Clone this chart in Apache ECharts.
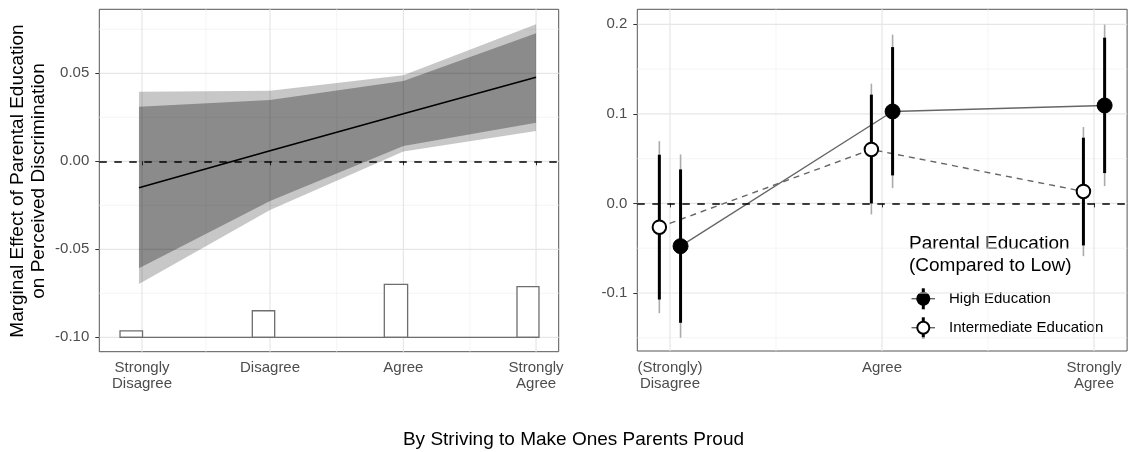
<!DOCTYPE html>
<html>
<head>
<meta charset="utf-8">
<script src="https://cdn.jsdelivr.net/npm/echarts@6/dist/echarts.min.js"></script>
<style>html,body{margin:0;padding:0;background:#fff}#c{width:1129px;height:452px}</style>
</head>
<body>
<div id="c"></div>
<script>
// ---------- LEFT PANEL DATA ----------
const leftTickLabels = ['Strongly\nDisagree', 'Disagree', 'Agree', 'Strongly\nAgree'];
const leftTickPos = [1.0, 1.967, 2.974, 3.976];
const leftMinorPos = [1.483, 2.470, 3.477];
const bandX = [0.977, 1.967, 2.974, 3.976];
const effect = [-0.015, 0.006, 0.027, 0.0477];
const outerLo = [-0.0697, -0.0277, 0.0055, 0.0172];
const outerHi = [0.0395, 0.0401, 0.0489, 0.0778];
const innerLo = [-0.0608, -0.0226, 0.0087, 0.0219];
const innerHi = [0.0310, 0.0348, 0.0456, 0.0727];
const histLeft = [0.834, 1.833, 2.830, 3.832];
const histRight = [1.004, 2.002, 3.006, 3.998];
const histTop = [-0.0963, -0.0849, -0.0699, -0.0712];
const histBase = -0.10;
const leftYTicks = [-0.10, -0.05, 0, 0.05];
const leftYMinor = [-0.075, -0.025, 0.025, 0.075];

// ---------- RIGHT PANEL DATA ----------
const rightCats = ['(Strongly)\nDisagree', 'Agree', 'Strongly\nAgree'];
const rightYTicks = [-0.1, 0, 0.1, 0.2];
const rightYMinor = [-0.15, -0.05, 0.05, 0.15];
const highEst = [-0.0477, 0.1027, 0.1094];
const highLo95 = [-0.150, 0.0171, 0.0193];
const highHi95 = [0.0547, 0.1885, 0.1997];
const highLo90 = [-0.1333, 0.0313, 0.0339];
const highHi90 = [0.0380, 0.1746, 0.1851];
const interEst = [-0.0265, 0.0603, 0.0134];
const interLo95 = [-0.1226, -0.0123, -0.0589];
const interHi95 = [0.0696, 0.1337, 0.0853];
const interLo90 = [-0.1073, 0.0, -0.0469];
const interHi90 = [0.0544, 0.1215, 0.0734];

const legendTitle = ['Parental Education', '(Compared to Low)'];
const legendNames = ['High Education', 'Intermediate Education'];
const yTitle = 'Marginal Effect of Parental Education\non Perceived Discrimination';
const xTitle = 'By Striving to Make Ones Parents Proud';

// ---------- BUILD ----------
const FONT = '"Liberation Sans", Arial, Helvetica, sans-serif';
const TICKCOL = '#4d4d4d';
const DODGE = 0.05;
const ZERODASH = {color: '#000', type: [7.5, 7.5], width: 1.5};

function vGrid(idx, vals, color, w) {
  return {
    type: 'custom', xAxisIndex: idx, yAxisIndex: idx, silent: true, z: 0, clip: false,
    data: vals.map(v => [v, 0]),
    renderItem(params, api) {
      const cs = params.coordSys;
      const px = api.coord([api.value(0), 0])[0];
      return {type: 'line', shape: {x1: px, y1: cs.y, x2: px, y2: cs.y + cs.height},
        style: {stroke: color, lineWidth: w}};
    }
  };
}
function hGrid(idx, vals, color, w) {
  return {
    type: 'custom', xAxisIndex: idx, yAxisIndex: idx, silent: true, z: 0, clip: false,
    data: vals.map(v => [2, v]),
    renderItem(params, api) {
      const cs = params.coordSys;
      const py = api.coord([2, api.value(1)])[1];
      return {type: 'line', shape: {x1: cs.x, y1: py, x2: cs.x + cs.width, y2: py},
        style: {stroke: color, lineWidth: w}};
    }
  };
}
function band(lo, hi, fill, z) {
  return {
    type: 'custom', xAxisIndex: 0, yAxisIndex: 0, silent: true, z: z,
    data: [[bandX[0], lo[0]]],
    renderItem(params, api) {
      const pts = [];
      for (let i = 0; i < bandX.length; i++) pts.push(api.coord([bandX[i], hi[i]]));
      for (let i = bandX.length - 1; i >= 0; i--) pts.push(api.coord([bandX[i], lo[i]]));
      return {type: 'polygon', shape: {points: pts}, style: {fill: fill}};
    }
  };
}
function errBars(est, lo95, hi95, lo90, hi90, d) {
  return {
    type: 'custom', xAxisIndex: 1, yAxisIndex: 1, silent: true, z: 3,
    data: est.map((e, i) => [i + 1 + d, lo95[i], hi95[i], lo90[i], hi90[i]]),
    renderItem(params, api) {
      const x = api.value(0);
      const a = api.coord([x, api.value(1)]), b = api.coord([x, api.value(2)]);
      const c = api.coord([x, api.value(3)]), e = api.coord([x, api.value(4)]);
      return {type: 'group', children: [
        {type: 'line', shape: {x1: a[0], y1: a[1], x2: b[0], y2: b[1]}, style: {stroke: '#ababab', lineWidth: 1.6}},
        {type: 'line', shape: {x1: c[0], y1: c[1], x2: e[0], y2: e[1]}, style: {stroke: '#000', lineWidth: 3}}
      ]};
    }
  };
}

const axisLbl = {color: TICKCOL, fontSize: 15, fontFamily: FONT, lineHeight: 16};
const tickStyle = {show: true, length: 4, lineStyle: {color: '#333', width: 1}};

const option = {
  animation: false,
  backgroundColor: '#fff',
  grid: [
    {left: 99.3, top: 9.3, width: 459.4, height: 342.4, show: true, borderColor: '#555', borderWidth: 1, backgroundColor: 'transparent'},
    {left: 637.3, top: 9.3, width: 489.8, height: 341.7, show: true, borderColor: '#555', borderWidth: 1, backgroundColor: 'transparent'}
  ],
  xAxis: [
    {type: 'value', gridIndex: 0, min: 0.6775, max: 4.147, splitLine: {show: false}, axisLine: {show: false},
     axisTick: Object.assign({customValues: leftTickPos}, tickStyle),
     axisLabel: Object.assign({customValues: leftTickPos, margin: 8.5,
       formatter: v => { const i = leftTickPos.findIndex(p => Math.abs(p - v) < 1e-6); return i >= 0 ? leftTickLabels[i] : ''; }}, axisLbl)},
    {type: 'value', gridIndex: 1, min: 0.846, max: 3.156, splitLine: {show: false}, axisLine: {show: false},
     axisTick: Object.assign({customValues: [1, 2, 3]}, tickStyle),
     axisLabel: Object.assign({customValues: [1, 2, 3], margin: 8.5,
       formatter: v => rightCats[Math.round(v) - 1] || ''}, axisLbl)}
  ],
  yAxis: [
    {type: 'value', gridIndex: 0, min: -0.10818, max: 0.08636, splitLine: {show: false}, axisLine: {show: false},
     axisTick: Object.assign({customValues: leftYTicks}, tickStyle),
     axisLabel: Object.assign({customValues: leftYTicks, margin: 10, formatter: v => v.toFixed(2)}, axisLbl)},
    {type: 'value', gridIndex: 1, min: -0.1648, max: 0.2168, splitLine: {show: false}, axisLine: {show: false},
     axisTick: Object.assign({customValues: rightYTicks}, tickStyle),
     axisLabel: Object.assign({customValues: rightYTicks, margin: 10, formatter: v => v.toFixed(1)}, axisLbl)}
  ],
  series: [
    vGrid(0, leftMinorPos, '#f3f3f3', 0.8),
    hGrid(0, leftYMinor, '#f3f3f3', 0.8),
    vGrid(0, leftTickPos, '#e6e6e6', 1.2),
    hGrid(0, leftYTicks, '#e6e6e6', 1.2),
    vGrid(1, [1.5, 2.5], '#f3f3f3', 0.8),
    hGrid(1, rightYMinor, '#f3f3f3', 0.8),
    vGrid(1, [1, 2, 3], '#e6e6e6', 1.2),
    hGrid(1, rightYTicks, '#e6e6e6', 1.2),
    band(outerLo, outerHi, 'rgba(0,0,0,0.22)', 1),
    band(innerLo, innerHi, 'rgba(0,0,0,0.30)', 2),
    {type: 'line', xAxisIndex: 0, yAxisIndex: 0, z: 3, silent: true, symbol: 'none',
     data: bandX.map((x, i) => [x, effect[i]]),
     lineStyle: {color: '#000', width: 1.6},
     markLine: {silent: true, symbol: 'none', label: {show: false}, lineStyle: ZERODASH, data: [{yAxis: 0}]}},
    {type: 'line', xAxisIndex: 0, yAxisIndex: 0, z: 3, silent: true, symbol: 'none',
     data: [[histLeft[0], histBase], [histRight[histRight.length - 1], histBase]],
     lineStyle: {color: '#6e6e6e', width: 1.3}},
    {type: 'custom', xAxisIndex: 0, yAxisIndex: 0, z: 3, silent: true,
     data: histTop.map((t, i) => [histLeft[i], histBase, histRight[i], t]),
     renderItem(params, api) {
       const p1 = api.coord([api.value(0), api.value(3)]);
       const p2 = api.coord([api.value(2), api.value(1)]);
       return {type: 'rect', shape: {x: p1[0], y: p1[1], width: p2[0] - p1[0], height: p2[1] - p1[1]},
         style: {fill: '#fff', stroke: '#6e6e6e', lineWidth: 1.3}};
     }},
    // right panel
    {type: 'line', xAxisIndex: 1, yAxisIndex: 1, z: 2, silent: true, symbol: 'none',
     data: highEst.map((v, i) => [i + 1 + DODGE, v]),
     lineStyle: {color: '#666', width: 1.4},
     markLine: {silent: true, symbol: 'none', label: {show: false}, lineStyle: ZERODASH, data: [{yAxis: 0}]}},
    {type: 'line', xAxisIndex: 1, yAxisIndex: 1, z: 2, silent: true, symbol: 'none',
     data: interEst.map((v, i) => [i + 1 - DODGE, v]),
     lineStyle: {color: '#666', width: 1.4, type: [6, 5]}},
    errBars(highEst, highLo95, highHi95, highLo90, highHi90, DODGE),
    errBars(interEst, interLo95, interHi95, interLo90, interHi90, -DODGE),
    {type: 'scatter', xAxisIndex: 1, yAxisIndex: 1, z: 4, silent: true, symbol: 'circle', symbolSize: 15,
     data: highEst.map((v, i) => [i + 1 + DODGE, v]),
     itemStyle: {color: '#000', borderColor: '#000', borderWidth: 1, opacity: 1}},
    {type: 'scatter', xAxisIndex: 1, yAxisIndex: 1, z: 4, silent: true, symbol: 'circle', symbolSize: 13.5,
     data: interEst.map((v, i) => [i + 1 - DODGE, v]),
     itemStyle: {color: '#fff', borderColor: '#000', borderWidth: 2, opacity: 1}}
  ],
  graphic: [
    {type: 'text', x: 28.5, y: 181, rotation: Math.PI / 2, silent: true,
     style: {text: yTitle, fill: '#000', font: '19px ' + FONT, align: 'center', verticalAlign: 'middle', lineHeight: 20.5}},
    {type: 'text', x: 573.5, y: 440, silent: true,
     style: {text: xTitle, fill: '#000', font: '19px ' + FONT, align: 'center', verticalAlign: 'middle'}},
    {type: 'text', x: 909, y: 244, silent: true,
     style: {text: legendTitle[0], fill: '#000', font: '19px ' + FONT, align: 'left', verticalAlign: 'middle'}},
    {type: 'text', x: 909, y: 265.5, silent: true,
     style: {text: legendTitle[1], fill: '#000', font: '19px ' + FONT, align: 'left', verticalAlign: 'middle'}},
    // legend key: high
    {type: 'line', silent: true, shape: {x1: 911.5, y1: 298.7, x2: 935, y2: 298.7}, style: {stroke: '#666', lineWidth: 1.4}},
    {type: 'line', silent: true, shape: {x1: 923.3, y1: 288.3, x2: 923.3, y2: 309.3}, style: {stroke: '#000', lineWidth: 3}},
    {type: 'circle', silent: true, shape: {cx: 923.3, cy: 298.7, r: 7}, style: {fill: '#000'}},
    {type: 'text', x: 949, y: 298.7, silent: true,
     style: {text: legendNames[0], fill: '#000', font: '15px ' + FONT, align: 'left', verticalAlign: 'middle'}},
    // legend key: intermediate
    {type: 'line', silent: true, shape: {x1: 911.5, y1: 327.7, x2: 935, y2: 327.7}, style: {stroke: '#666', lineWidth: 1.4}},
    {type: 'line', silent: true, shape: {x1: 923.3, y1: 317.3, x2: 923.3, y2: 338.3}, style: {stroke: '#000', lineWidth: 3}},
    {type: 'circle', silent: true, shape: {cx: 923.3, cy: 327.7, r: 6}, style: {fill: '#fff', stroke: '#000', lineWidth: 2}},
    {type: 'text', x: 949, y: 327.7, silent: true,
     style: {text: legendNames[1], fill: '#000', font: '15px ' + FONT, align: 'left', verticalAlign: 'middle'}}
  ]
};

const chart = echarts.init(document.getElementById('c'), null, {renderer: 'canvas'});
chart.setOption(option);
</script>
</body>
</html>
